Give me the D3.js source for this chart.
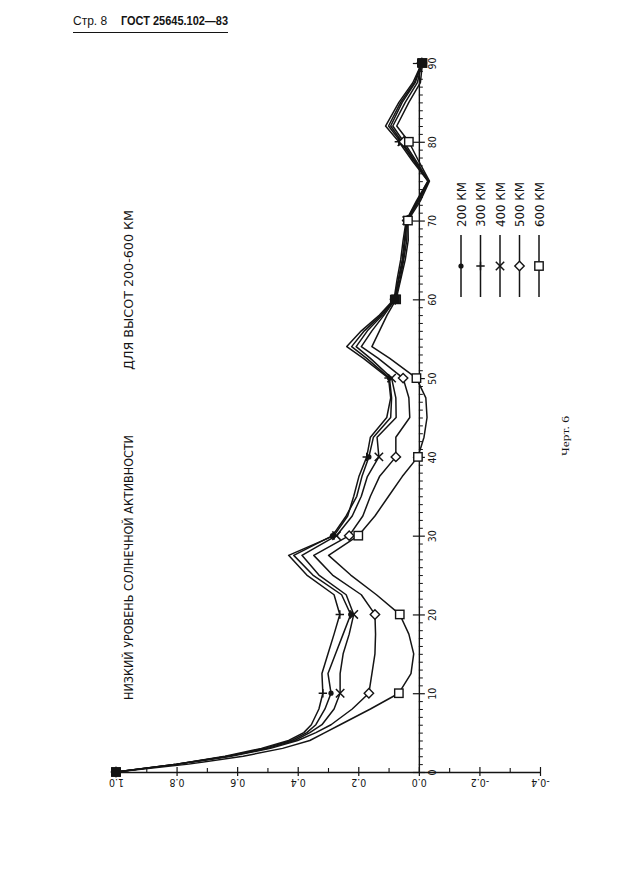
<!DOCTYPE html>
<html><head><meta charset="utf-8">
<script src="https://cdn.jsdelivr.net/npm/d3@7"></script>
<style>
html,body{margin:0;padding:0;background:#fff;}
svg{display:block;}
</style></head>
<body>
<svg id="chart" width="636" height="884"></svg>
<script>
// ---- data ----
const angles = [0, 1, 2, 3, 4, 5, 6, 8, 10, 12.5, 15, 17.5, 20, 22.5, 25, 27.5, 30, 32.5, 35, 37.5, 40, 42.5, 45, 47.5, 50, 52.5, 54, 56, 58, 60, 62.5, 65, 67.5, 70, 72.5, 75, 77.5, 80, 82, 85, 87.5, 90];
const h200 = [1.0, 0.80, 0.63, 0.51, 0.42, 0.37, 0.34, 0.31, 0.29, 0.30, 0.275, 0.25, 0.225, 0.255, 0.35, 0.413, 0.285, 0.24, 0.205, 0.188, 0.165, 0.15, 0.093, 0.09, 0.097, 0.172, 0.222, 0.18, 0.125, 0.08, 0.068, 0.055, 0.048, 0.04, 0.005, -0.03, 0.015, 0.06, 0.10, 0.06, 0.015, -0.01];
const h300 = [1.0, 0.80, 0.64, 0.52, 0.43, 0.38, 0.355, 0.33, 0.317, 0.32, 0.30, 0.28, 0.261, 0.28, 0.37, 0.43, 0.28, 0.235, 0.215, 0.198, 0.172, 0.16, 0.106, 0.093, 0.10, 0.183, 0.238, 0.19, 0.13, 0.082, 0.072, 0.06, 0.052, 0.042, 0.008, -0.03, 0.02, 0.066, 0.11, 0.066, 0.02, -0.01];
const h400 = [1.0, 0.80, 0.63, 0.50, 0.41, 0.36, 0.32, 0.28, 0.26, 0.26, 0.25, 0.23, 0.215, 0.24, 0.33, 0.386, 0.272, 0.22, 0.19, 0.17, 0.132, 0.138, 0.075, 0.076, 0.09, 0.16, 0.207, 0.17, 0.12, 0.08, 0.066, 0.052, 0.045, 0.04, 0.003, -0.032, 0.012, 0.056, 0.093, 0.055, 0.012, -0.01];
const h500 = [1.0, 0.79, 0.62, 0.49, 0.40, 0.34, 0.29, 0.22, 0.165, 0.155, 0.145, 0.143, 0.145, 0.19, 0.285, 0.347, 0.23, 0.185, 0.16, 0.13, 0.076, 0.076, 0.03, 0.033, 0.052, 0.134, 0.19, 0.155, 0.115, 0.078, 0.062, 0.05, 0.04, 0.038, 0.0, -0.033, 0.008, 0.05, 0.086, 0.045, 0.005, -0.01];
const h600 = [1.0, 0.76, 0.58, 0.45, 0.36, 0.31, 0.26, 0.16, 0.066, 0.026, 0.017, 0.033, 0.063, 0.14, 0.225, 0.298, 0.20, 0.145, 0.10, 0.055, 0.003, -0.017, -0.027, -0.023, 0.008, 0.096, 0.155, 0.13, 0.105, 0.075, 0.06, 0.045, 0.035, 0.036, -0.005, -0.035, 0.0, 0.033, 0.073, 0.033, -0.005, -0.012];
const seriesNames = ["200 КМ", "300 КМ", "400 КМ", "500 КМ", "600 КМ"];
const markerTypes = ["dot", "plus", "cross", "diamond", "square"];
const valueTicks = [1.0, 0.8, 0.6, 0.4, 0.2, 0.0, -0.2, -0.4];
const valueTickLabels = ["1.0", "0.8", "0.6", "0.4", "0.2", "0.0", "-0.2", "-0.4"];
const valueMinorTicks = [0.9, 0.7, 0.5, 0.3, 0.1, -0.1, -0.3];
const angleTicks = [0, 10, 20, 30, 40, 50, 60, 70, 80, 90];
const titleLine1 = "НИЗКИЙ УРОВЕНЬ СОЛНЕЧНОЙ АКТИВНОСТИ";
const titleLine2 = "ДЛЯ ВЫСОТ 200-600 КМ";
const headerLeft = "Стр. 8";
const headerRight = "ГОСТ 25645.102—83";
const figLabel = "Черт. 6";

const seriesValues = [h200, h300, h400, h500, h600];

// ---- drawing ----
const svg = d3.select("#chart");
const ink = "#141414";
const fontPlot = "'DejaVu Sans Condensed','DejaVu Sans',sans-serif";

const xV = d3.scaleLinear().domain([1.0, -0.4]).range([116, 540]);   // value -> horizontal
const yA = d3.scaleLinear().domain([0, 90]).range([772, 63]);        // angle -> vertical
const axisY = 772, axisX = xV(0);

// header
svg.append("text").attr("x", 73).attr("y", 25)
  .attr("font-family", "'Liberation Sans',Arial,sans-serif").attr("font-size", 12)
  .attr("fill", ink).text(headerLeft);
svg.append("text").attr("x", 121).attr("y", 25)
  .attr("font-family", "'Liberation Sans',Arial,sans-serif").attr("font-size", 12)
  .attr("font-weight", "bold").attr("fill", ink)
  .attr("textLength", 107).attr("lengthAdjust", "spacingAndGlyphs").text(headerRight);
svg.append("line").attr("x1", 73).attr("x2", 228).attr("y1", 32.5).attr("y2", 32.5)
  .attr("stroke", ink).attr("stroke-width", 1.2);

// value axis (horizontal line at angle 0)
const gV = svg.append("g").attr("transform", `translate(0,${axisY})`);
gV.call(d3.axisBottom(xV).tickValues(valueTicks).tickSizeInner(4).tickSizeOuter(0)
  .tickFormat((d, i) => valueTickLabels[i]));
gV.select(".domain").attr("stroke", ink).attr("stroke-width", 1.4);
gV.selectAll(".tick line").attr("stroke", ink).attr("y1", -5).attr("y2", 4).attr("stroke-width", 1.2);
gV.selectAll(".tick text")
  .attr("font-family", fontPlot).attr("font-size", 10.5).attr("fill", ink)
  .attr("y", 0).attr("dy", 0)
  .attr("text-anchor", "middle").attr("dominant-baseline", "central")
  .attr("transform", "translate(0,11) rotate(180)");
const gVm = svg.append("g").attr("transform", `translate(0,${axisY})`);
gVm.call(d3.axisTop(xV).tickValues(valueMinorTicks).tickSizeInner(4).tickSizeOuter(0).tickFormat(""));
gVm.select(".domain").remove();
gVm.selectAll(".tick line").attr("stroke", ink).attr("stroke-width", 1.1);

// angle axis (vertical line at value 0)
const gA = svg.append("g").attr("transform", `translate(${axisX},0)`);
gA.call(d3.axisRight(yA).tickValues(angleTicks).tickSizeInner(6).tickSizeOuter(0).tickFormat(d3.format("d")));
gA.select(".domain").attr("stroke", ink).attr("stroke-width", 1.4);
gA.selectAll(".tick line").attr("stroke", ink).attr("x1", -6).attr("x2", 6).attr("stroke-width", 1.2);
gA.selectAll(".tick text")
  .attr("font-family", fontPlot).attr("font-size", 10.5).attr("fill", ink)
  .attr("x", 0).attr("dy", 0)
  .attr("text-anchor", "middle").attr("dominant-baseline", "central")
  .attr("transform", "translate(13,0) rotate(-90)");
const gAm = svg.append("g").attr("transform", `translate(${axisX},0)`);
gAm.call(d3.axisRight(yA).tickValues(d3.range(0, 91, 1).filter(d => d % 10 !== 0)).tickSizeInner(4).tickSizeOuter(0).tickFormat(""));
gAm.select(".domain").remove();
gAm.selectAll(".tick line").attr("stroke", ink).attr("stroke-width", 1);

// titles
function vText(x, y, txt, size, len, family) {
  const t = svg.append("text").attr("transform", `translate(${x},${y}) rotate(-90)`)
    .attr("font-family", family || fontPlot).attr("font-size", size).attr("fill", ink)
    .text(txt);
  if (len) t.attr("textLength", len).attr("lengthAdjust", "spacingAndGlyphs");
  return t;
}
vText(133, 700, titleLine1, 11.5, 265);
vText(133, 370, titleLine2, 11.5, 160);
vText(569, 456, figLabel, 9.5, 40, "'Liberation Serif','DejaVu Serif',serif");

// lines
const line = d3.line().x(d => xV(d[1])).y(d => yA(d[0])).curve(d3.curveLinear);
const gL = svg.append("g");
seriesValues.forEach((vals, i) => {
  gL.append("path").datum(angles.map((a, k) => [a, vals[k]]))
    .attr("d", line).attr("fill", "none").attr("stroke", ink)
    .attr("stroke-width", 1.5).attr("stroke-linejoin", "round");
});

// markers
function drawMarker(g, type, x, y) {
  const s = 4.2;
  if (type === "dot") {
    g.append("circle").attr("cx", x).attr("cy", y).attr("r", 2.6).attr("fill", ink);
  } else if (type === "plus") {
    g.append("path").attr("d", `M${x - s},${y}H${x + s}M${x},${y - s}V${y + s}`)
      .attr("stroke", ink).attr("stroke-width", 1.5).attr("fill", "none");
  } else if (type === "cross") {
    g.append("path").attr("d", `M${x - s},${y - s}L${x + s},${y + s}M${x - s},${y + s}L${x + s},${y - s}`)
      .attr("stroke", ink).attr("stroke-width", 1.5).attr("fill", "none");
  } else if (type === "diamond") {
    g.append("path").attr("d", `M${x},${y - s - 0.5}L${x + s + 0.5},${y}L${x},${y + s + 0.5}L${x - s - 0.5},${y}Z`)
      .attr("stroke", ink).attr("stroke-width", 1.4).attr("fill", "#fff");
  } else if (type === "square") {
    g.append("rect").attr("x", x - s).attr("y", y - s).attr("width", 2 * s).attr("height", 2 * s)
      .attr("stroke", ink).attr("stroke-width", 1.4).attr("fill", "#fff");
  }
}
const gM = svg.append("g");
seriesValues.forEach((vals, i) => {
  angles.forEach((a, k) => {
    if (a % 10 === 0) drawMarker(gM, markerTypes[i], xV(vals[k]), yA(a));
  });
});
// clusters at common points appear solid in the original
[0, 60, 90].forEach(a => {
  const k = angles.indexOf(a);
  const xs = seriesValues.map(v => xV(v[k]));
  const cx = d3.mean(xs);
  gM.append("rect").attr("x", cx - 5).attr("y", yA(a) - 4.5).attr("width", 10).attr("height", 9).attr("fill", ink);
});

// legend
const legX = d3.scalePoint().domain(seriesNames).range([461, 539]);
const gLeg = svg.append("g");
seriesNames.forEach((n, i) => {
  const x = legX(n);
  gLeg.append("line").attr("x1", x).attr("x2", x).attr("y1", 235).attr("y2", 297)
    .attr("stroke", ink).attr("stroke-width", 1.5);
  drawMarker(gLeg, markerTypes[i], x, 266);
  vText(x + 4.5, 227, n, 12, 45);
});
</script>
</body></html>
